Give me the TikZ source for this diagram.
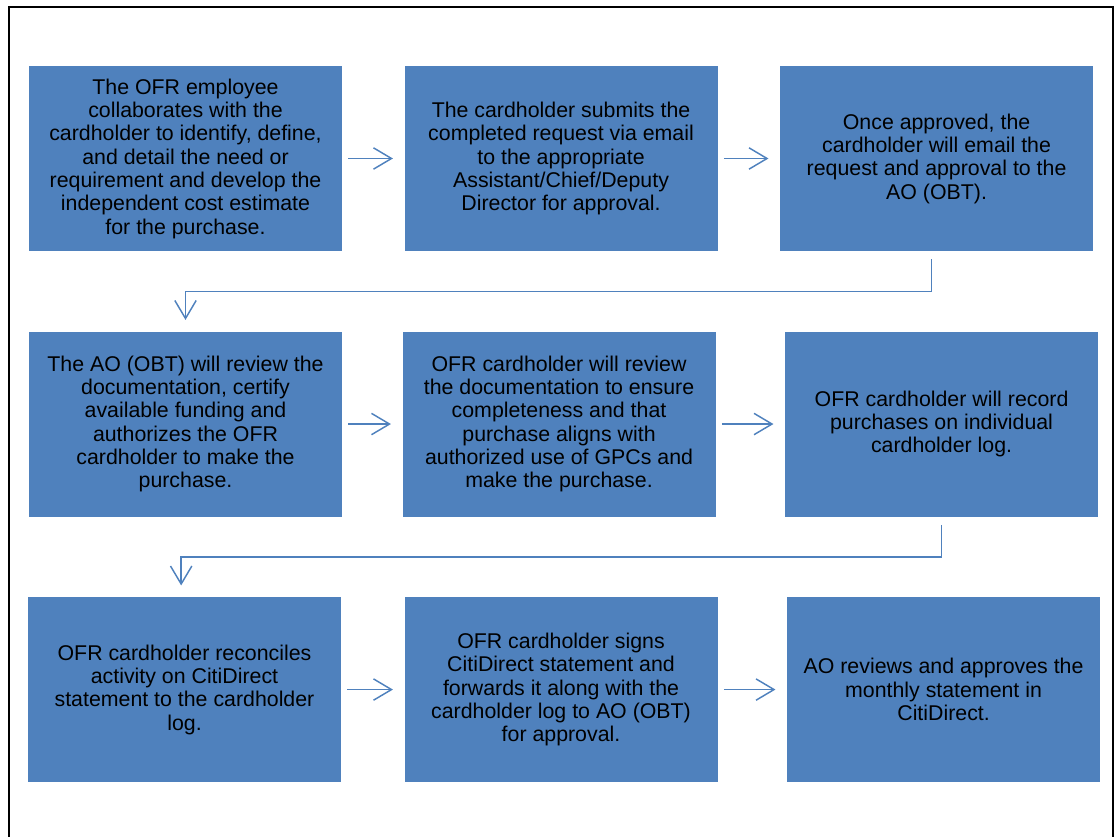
\documentclass[tikz,border=0pt]{standalone}
\usepackage{fontspec}
\setmainfont{Liberation Sans}
\usetikzlibrary{positioning,arrows.meta}

\definecolor{boxblue}{HTML}{4F81BD}

\begin{document}
\begin{tikzpicture}[x=0.75pt,y=-0.75pt,
  node distance=60pt and 46.5pt,
  task node/.style={rectangle,fill=boxblue,inner sep=0pt,
    minimum width=234.75pt,minimum height=138.75pt,align=center,
    font=\fontsize{16pt}{17.5pt}\selectfont},
  flow/.style={draw=boxblue,line width=1.1pt,
    -{Straight Barb[length=13.5pt,width=16pt]}},
  next/.style={flow,shorten <=4.5pt,shorten >=8.5pt},
  wrap/.style={flow,shorten <=6pt,shorten >=8.5pt}]

  \useasboundingbox (0,0) rectangle (1118,837);
  \draw[line width=1.5pt] (9,838) -- (9,7) -- (1113,7) -- (1113,838);

  % first row
  \node[task node] (A) at (185.5,158.5) {The OFR employee\\collaborates with the\\cardholder to identify, define,\\and detail the need or\\requirement and develop the\\independent cost estimate\\for the purchase.};
  \node[task node] (B) [right=of A] {The cardholder submits the\\completed request via email\\to the appropriate\\Assistant/Chief/Deputy\\Director for approval.};
  \node[task node] (C) [right=of B] {Once approved, the\\cardholder will email the\\request and approval to the\\AO (OBT).};

  % second row
  \node[task node] (D) [below=of A] {The AO (OBT) will review the\\documentation, certify\\available funding and\\authorizes the OFR\\cardholder to make the\\purchase.};
  \node[task node] (E) [below=of B,xshift=-1.5pt] {OFR cardholder will review\\the documentation to ensure\\completeness and that\\purchase aligns with\\authorized use of GPCs and\\make the purchase.};
  \node[task node] (F) [below=of C,xshift=3.75pt] {OFR cardholder will record\\purchases on individual\\cardholder log.};

  % third row
  \node[task node] (G) [below=of D,xshift=-0.75pt] {OFR cardholder reconciles\\activity on CitiDirect\\statement to the cardholder\\log.};
  \node[task node] (H) [below=of E,xshift=1.5pt] {OFR cardholder signs\\CitiDirect statement and\\forwards it along with the\\cardholder log to AO (OBT)\\for approval.};
  \node[task node] (I) [below=of F,xshift=1.5pt] {AO reviews and approves the\\monthly statement in\\CitiDirect.};

  \path[next]
    % along each row
    (A) edge (B)
    (B) edge (C)
    (D) edge (E)
    (E) edge (F)
    (G) edge (H)
    (H) edge (I);

  % back to the next row
  \draw[wrap] ([xshift=-4pt]C.south) -- ++(0,-30pt) -| (D.north);
  \draw[wrap] (F.south) -- ++(0,-30pt) -| ([xshift=-2.5pt]G.north);

\end{tikzpicture}
\end{document}
